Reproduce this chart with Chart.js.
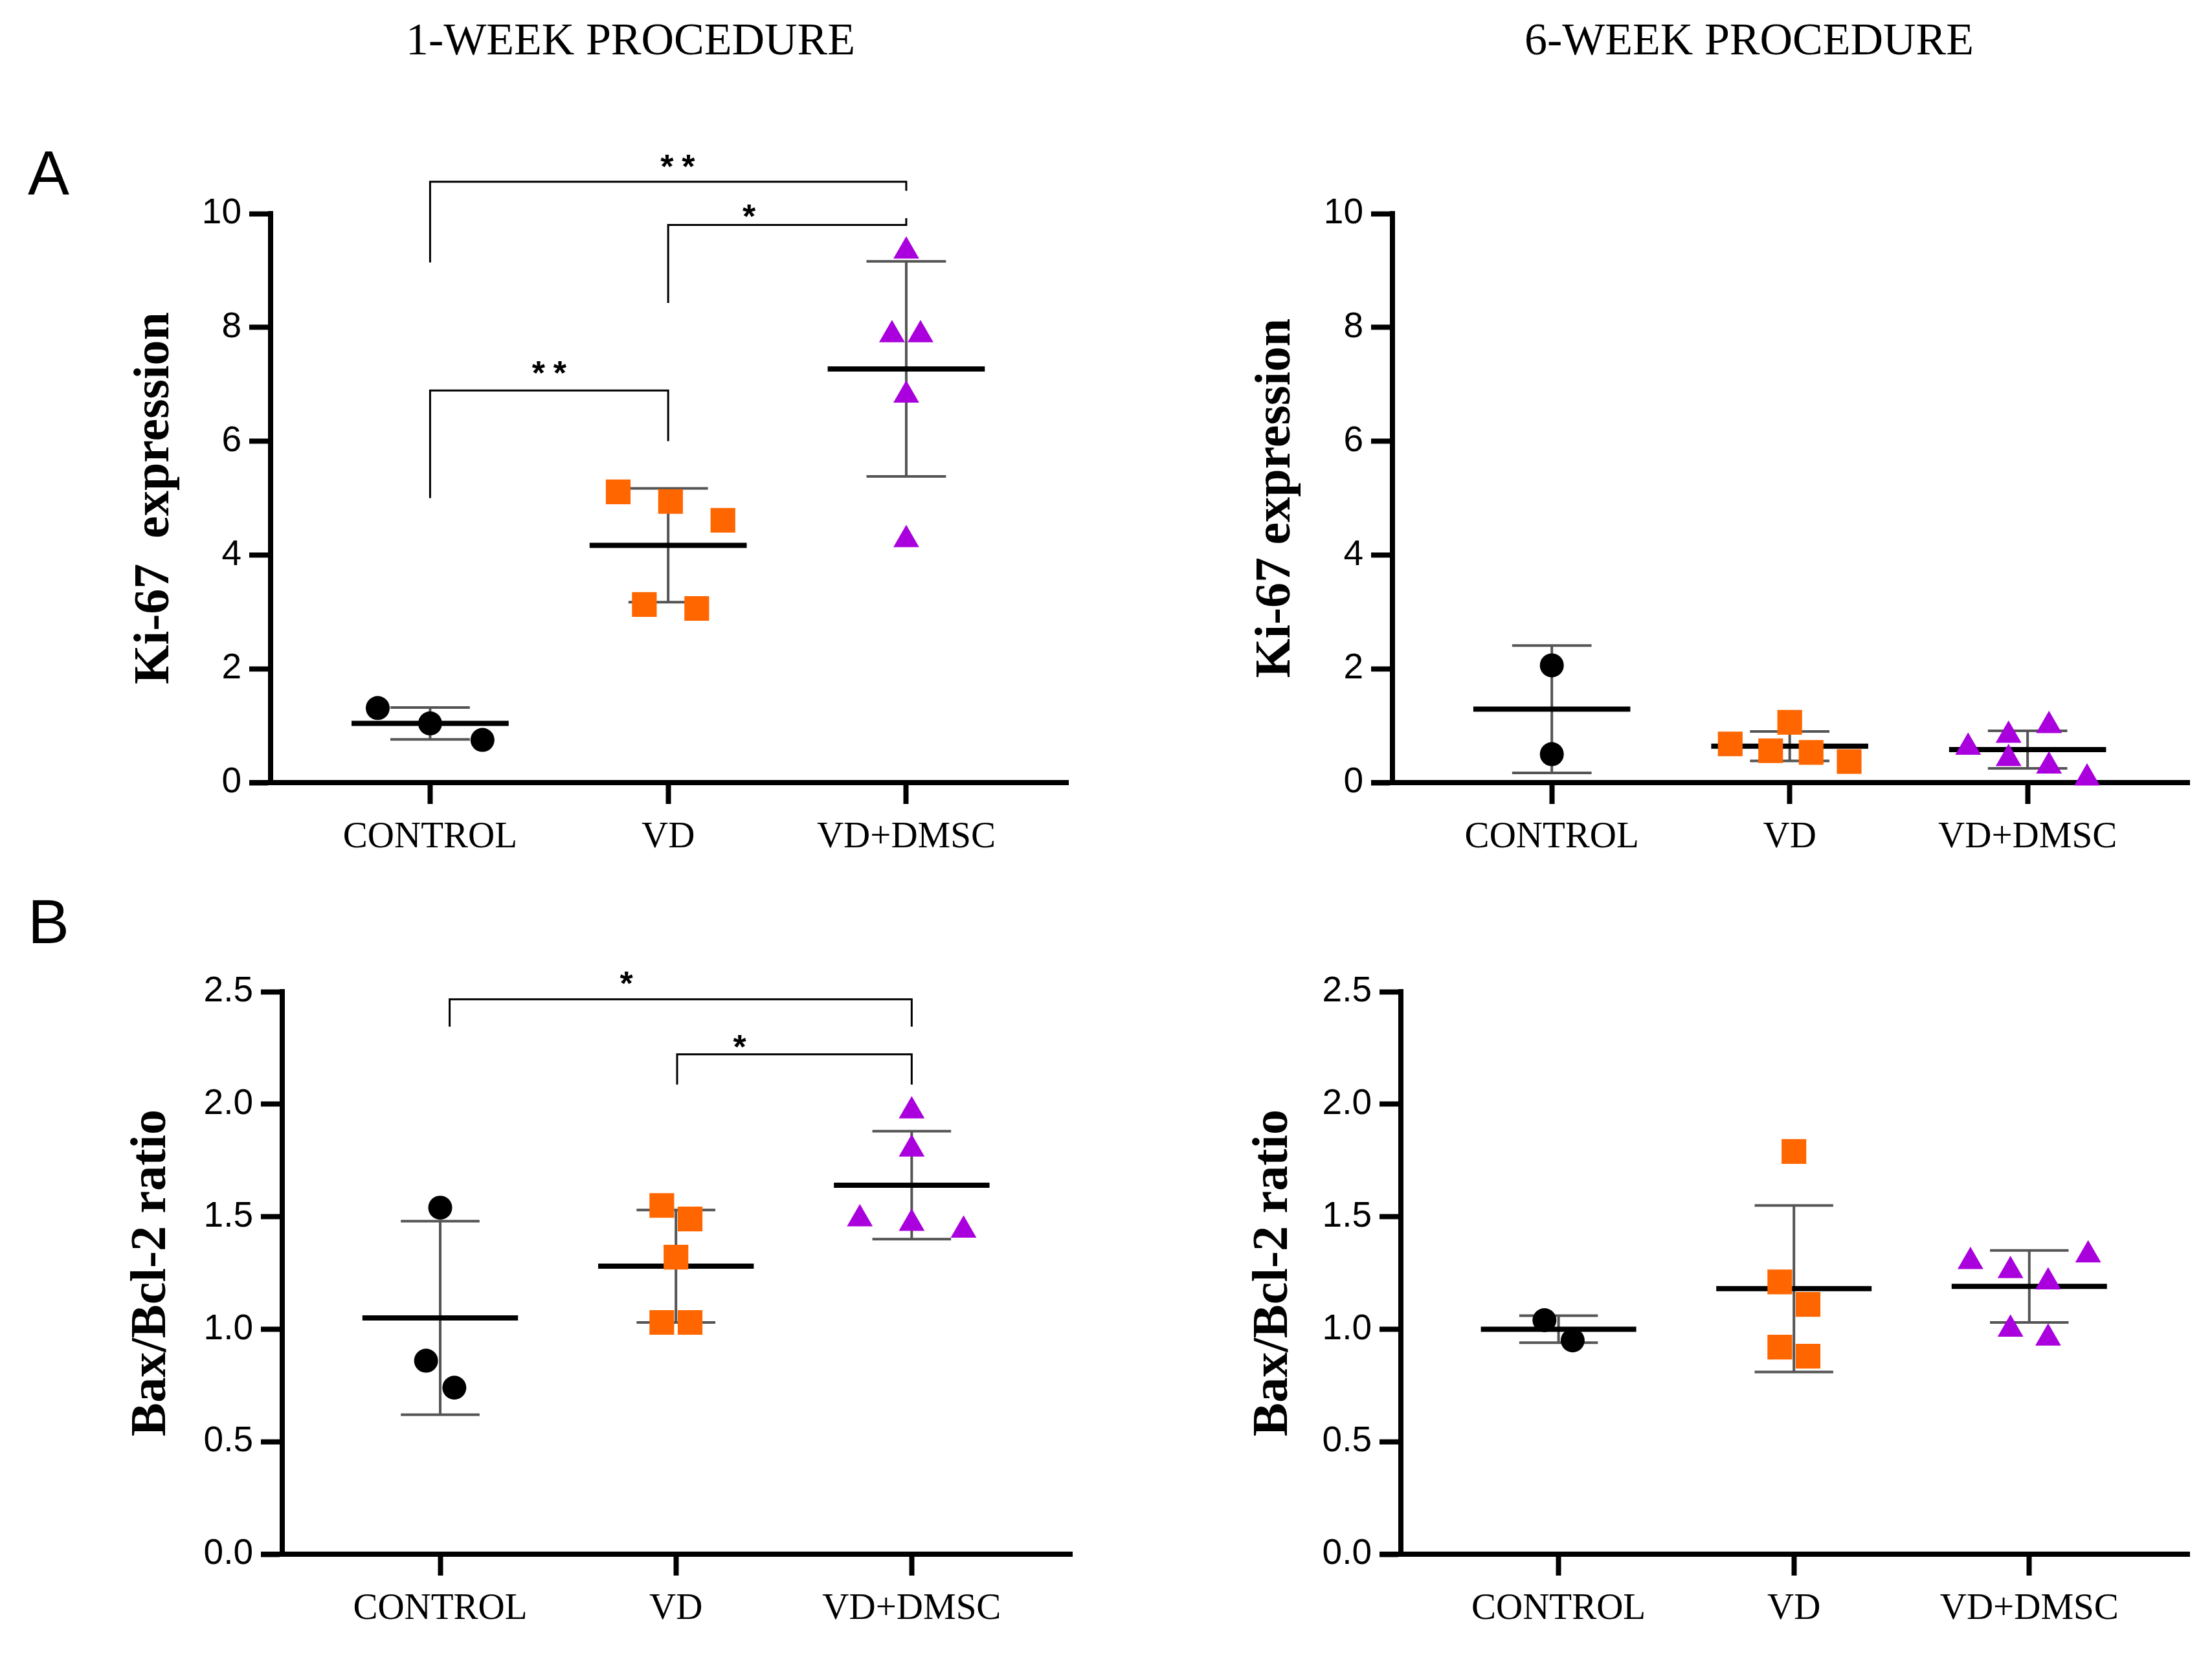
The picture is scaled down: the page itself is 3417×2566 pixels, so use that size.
<!DOCTYPE html>
<html>
<head>
<meta charset="utf-8">
<script src="https://cdn.jsdelivr.net/npm/chart.js@4.4.1/dist/chart.umd.min.js"></script>
<style>
  html, body { margin: 0; padding: 0; background: #fff; }
  #page { position: relative; width: 3417px; height: 2566px; overflow: hidden; background: #fff; }
  canvas { position: absolute; }
  .title { position: absolute; font-family: 'Liberation Serif', serif; font-size: 70px; line-height: 1;
           white-space: nowrap; transform: translateX(-50%); color: #000; }
  .letter { position: absolute; font-family: 'Liberation Sans', Arial, sans-serif; font-size: 96px; line-height: 1; color: #000; }
</style>
</head>
<body>
<div id="page">
  <div class="title" style="left:974px; top:26px">1-WEEK PROCEDURE</div>
  <div class="title" style="left:2702px; top:26px">6-WEEK PROCEDURE</div>
  <div class="letter" style="left:43px; top:219px">A</div>
  <div class="letter" style="left:43px; top:1376px">B</div>
  <canvas id="kiW1" width="1708" height="1250" style="left:0; top:130px; width:1708px; height:1250px"></canvas>
  <canvas id="kiW6" width="1709" height="1250" style="left:1708px; top:130px; width:1709px; height:1250px"></canvas>
  <canvas id="baxW1" width="1708" height="1186" style="left:0; top:1380px; width:1708px; height:1186px"></canvas>
  <canvas id="baxW6" width="1709" height="1186" style="left:1708px; top:1380px; width:1709px; height:1186px"></canvas>
</div>
<script>
/* Ki-67 and Bax/Bcl-2 dot plots: mean ± SD, 1-week vs 6-week procedure. */
const groups = ['CONTROL', 'VD', 'VD+DMSC'];
const kiTicks = [0, 2, 4, 6, 8, 10];
const baxTicks = [0, 0.5, 1.0, 1.5, 2.0, 2.5];

// A, 1 week — Ki-67 expression
const kiW1Control = [1.31, 1.04, 0.75];
const kiW1Vd = [5.11, 4.94, 4.61, 3.13, 3.06];
const kiW1VdDmsc = [9.34, 7.87, 7.87, 6.81, 4.27];
const kiW1ControlSpread = [-0.22, 0, 0.22];
const kiW1VdSpread = [-0.21, 0.01, 0.23, -0.10, 0.12];
const kiW1VdDmscSpread = [0, -0.06, 0.06, 0, 0];
const kiW1Mean = [1.04, 4.17, 7.27];
const kiW1Sd = [0.28, 1.00, 1.89];
// [from, to, bar, left foot, right foot, text, text x, text y]
const kiW1Stars = [
  [0, 2, 10.56, 9.14, 10.40, '**', 1.04, 10.96],
  [1, 2, 9.80, 8.43, 9.92, '*', 1.34, 10.09],
  [0, 1, 6.89, 5.00, 6.00, '**', 0.50, 7.33],
];

// A, 6 weeks — Ki-67 expression
const kiW6Control = [2.06, 0.50];
const kiW6Vd = [0.68, 0.56, 1.06, 0.53, 0.37];
const kiW6VdDmsc = [0.62, 0.83, 0.42, 1.00, 0.29, 0.08];
const kiW6ControlSpread = [0, 0];
const kiW6VdSpread = [-0.25, -0.08, 0, 0.09, 0.25];
const kiW6VdDmscSpread = [-0.25, -0.08, -0.08, 0.09, 0.09, 0.25];
const kiW6Mean = [1.29, 0.64, 0.58];
const kiW6Sd = [1.12, 0.26, 0.33];

// B, 1 week — Bax/Bcl-2 ratio
const baxW1Control = [1.54, 0.86, 0.74];
const baxW1Vd = [1.55, 1.49, 1.32, 1.03, 1.03];
const baxW1VdDmsc = [1.97, 1.80, 1.49, 1.47, 1.44];
const baxW1ControlSpread = [0, -0.06, 0.06];
const baxW1VdSpread = [-0.06, 0.06, 0, -0.06, 0.06];
const baxW1VdDmscSpread = [0, 0, -0.22, 0, 0.22];
const baxW1Mean = [1.05, 1.28, 1.64];
const baxW1Sd = [0.43, 0.25, 0.24];
const baxW1Stars = [
  [0.04, 2, 2.466, 2.345, 2.345, '*', 0.79, 2.57],
  [1.005, 2, 2.222, 2.087, 2.087, '*', 1.27, 2.29],
];

// B, 6 weeks — Bax/Bcl-2 ratio
const baxW6Control = [1.04, 0.95];
const baxW6Vd = [1.79, 1.21, 1.11, 0.92, 0.88];
const baxW6VdDmsc = [1.30, 1.26, 1.21, 1.33, 1.00, 0.96];
const baxW6ControlSpread = [-0.06, 0.06];
const baxW6VdSpread = [0, -0.06, 0.06, -0.06, 0.06];
const baxW6VdDmscSpread = [-0.25, -0.08, 0.08, 0.25, -0.08, 0.08];
const baxW6Mean = [1.00, 1.18, 1.19];
const baxW6Sd = [0.06, 0.37, 0.16];

const MARKERS = [
  { style: 'circle', color: '#000000', radius: 18.5 },
  { style: 'rect', color: '#FF6600', radius: 27 },
  { style: 'triangle', color: '#AA00DD', radius: 23 },
];
const TICK_LEN = 33;

Chart.defaults.font.family = "'Liberation Sans', Arial, sans-serif";
Chart.defaults.color = '#000';

// x axis in Prism style runs on under the y ticks; star labels above the brackets
const panelExtras = {
  id: 'panelExtras',
  afterDraw(chart, args, opts) {
    const { ctx, chartArea, scales } = chart;
    ctx.save();
    ctx.strokeStyle = '#000';
    ctx.lineWidth = 8;
    ctx.beginPath();
    ctx.moveTo(chartArea.left - TICK_LEN, chartArea.bottom);
    ctx.lineTo(chartArea.left, chartArea.bottom);
    ctx.stroke();

    ctx.fillStyle = '#000';
    ctx.font = "bold 52px 'Liberation Sans', Arial, sans-serif";
    ctx.textAlign = 'center';
    ctx.textBaseline = 'alphabetic';
    (opts.stars || []).forEach((s) => {
      const cx = scales.x.getPixelForValue(s[6]);
      const cy = scales.y.getPixelForValue(s[7]) + 0.57 * 52;
      const n = s[5].length;
      for (let k = 0; k < n; k++) {
        ctx.fillText('*', cx + (k - (n - 1) / 2) * 33, cy);
      }
    });
    ctx.restore();
  },
};

function seg(points, color, width) {
  return {
    data: points, showLine: true, borderColor: color, borderWidth: width,
    borderCapStyle: 'butt', pointRadius: 0, clip: false,
  };
}

function makePanel(id, cfg) {
  const ds = [];
  cfg.points.forEach((vals, g) => {
    const m = MARKERS[g];
    ds.push({
      data: vals.map((v, k) => ({ x: g + cfg.spread[g][k], y: v })),
      pointStyle: m.style, pointRadius: m.radius,
      pointBackgroundColor: m.color, pointBorderColor: m.color, pointBorderWidth: 0,
      showLine: false, clip: false,
    });
  });
  cfg.mean.forEach((m, g) => {
    ds.push(seg([{ x: g - 0.33, y: m }, { x: g + 0.33, y: m }], '#000', 8));
  });
  cfg.mean.forEach((m, g) => {
    const hi = m + cfg.sd[g], lo = m - cfg.sd[g];
    ds.push(seg([{ x: g - 0.167, y: hi }, { x: g + 0.167, y: hi }], '#555', 4));
    ds.push(seg([{ x: g, y: hi }, { x: g, y: lo }], '#555', 4));
    ds.push(seg([{ x: g - 0.167, y: lo }, { x: g + 0.167, y: lo }], '#555', 4));
  });
  (cfg.stars || []).forEach((b) => {
    ds.push(seg([{ x: b[0], y: b[3] }, { x: b[0], y: b[2] }, { x: b[1], y: b[2] }, { x: b[1], y: b[4] }], '#000', 3));
  });

  const axisGrid = {
    display: true, drawOnChartArea: false, drawTicks: true,
    tickLength: TICK_LEN, tickWidth: 8, tickColor: '#000',
  };
  const axisBorder = { display: true, color: '#000', width: 8 };

  return new Chart(document.getElementById(id), {
    type: 'scatter',
    data: { datasets: ds },
    plugins: [panelExtras],
    options: {
      responsive: false,
      animation: false,
      events: [],
      layout: { padding: { left: cfg.padLeft, right: cfg.padRight, top: cfg.padTop, bottom: 0 } },
      plugins: {
        legend: { display: false },
        tooltip: { enabled: false },
        panelExtras: { stars: cfg.stars },
      },
      scales: {
        x: {
          type: 'linear', min: -0.67, max: 2.68,
          afterBuildTicks: (s) => { s.ticks = groups.map((_, i) => ({ value: i })); },
          afterFit: (s) => { s.height = cfg.xHeight; },
          grid: axisGrid, border: axisBorder,
          ticks: {
            callback: (v) => groups[v], autoSkip: false, maxRotation: 0, padding: 18,
            font: { family: "'Liberation Serif', serif", size: 57 }, color: '#000',
          },
        },
        y: {
          type: 'linear', min: 0, max: cfg.ticks[cfg.ticks.length - 1],
          afterBuildTicks: (s) => { s.ticks = cfg.ticks.map((v) => ({ value: v })); },
          afterFit: (s) => { s.width = cfg.yWidth; },
          grid: axisGrid, border: axisBorder,
          ticks: { callback: cfg.fmt, padding: 12, font: { size: 55 }, color: '#000' },
          title: {
            display: true, text: cfg.title, padding: 0, color: '#000',
            font: { family: "'Liberation Serif', serif", size: 78, weight: 'bold' },
          },
        },
      },
    },
  });
}

const kiFmt = (v) => String(v);
const baxFmt = (v) => v.toFixed(1);

makePanel('kiW1', {
  points: [kiW1Control, kiW1Vd, kiW1VdDmsc],
  spread: [kiW1ControlSpread, kiW1VdSpread, kiW1VdDmscSpread],
  mean: kiW1Mean, sd: kiW1Sd, stars: kiW1Stars,
  ticks: kiTicks, fmt: kiFmt, title: 'Ki-67  expression',
  padLeft: 193, yWidth: 225, padRight: 58, padTop: 200, xHeight: 171,
});
makePanel('kiW6', {
  points: [kiW6Control, kiW6Vd, kiW6VdDmsc],
  spread: [kiW6ControlSpread, kiW6VdSpread, kiW6VdDmscSpread],
  mean: kiW6Mean, sd: kiW6Sd,
  ticks: kiTicks, fmt: kiFmt, title: 'Ki-67 expression',
  padLeft: 217, yWidth: 226, padRight: 35, padTop: 200, xHeight: 171,
});
makePanel('baxW1', {
  points: [baxW1Control, baxW1Vd, baxW1VdDmsc],
  spread: [baxW1ControlSpread, baxW1VdSpread, baxW1VdDmscSpread],
  mean: baxW1Mean, sd: baxW1Sd, stars: baxW1Stars,
  ticks: baxTicks, fmt: baxFmt, title: 'Bax/Bcl-2 ratio',
  padLeft: 188, yWidth: 248, padRight: 52, padTop: 152, xHeight: 165,
});
makePanel('baxW6', {
  points: [baxW6Control, baxW6Vd, baxW6VdDmsc],
  spread: [baxW6ControlSpread, baxW6VdSpread, baxW6VdDmscSpread],
  mean: baxW6Mean, sd: baxW6Sd,
  ticks: baxTicks, fmt: baxFmt, title: 'Bax/Bcl-2 ratio',
  padLeft: 213, yWidth: 243, padRight: 35, padTop: 152, xHeight: 165,
});
</script>
</body>
</html>
